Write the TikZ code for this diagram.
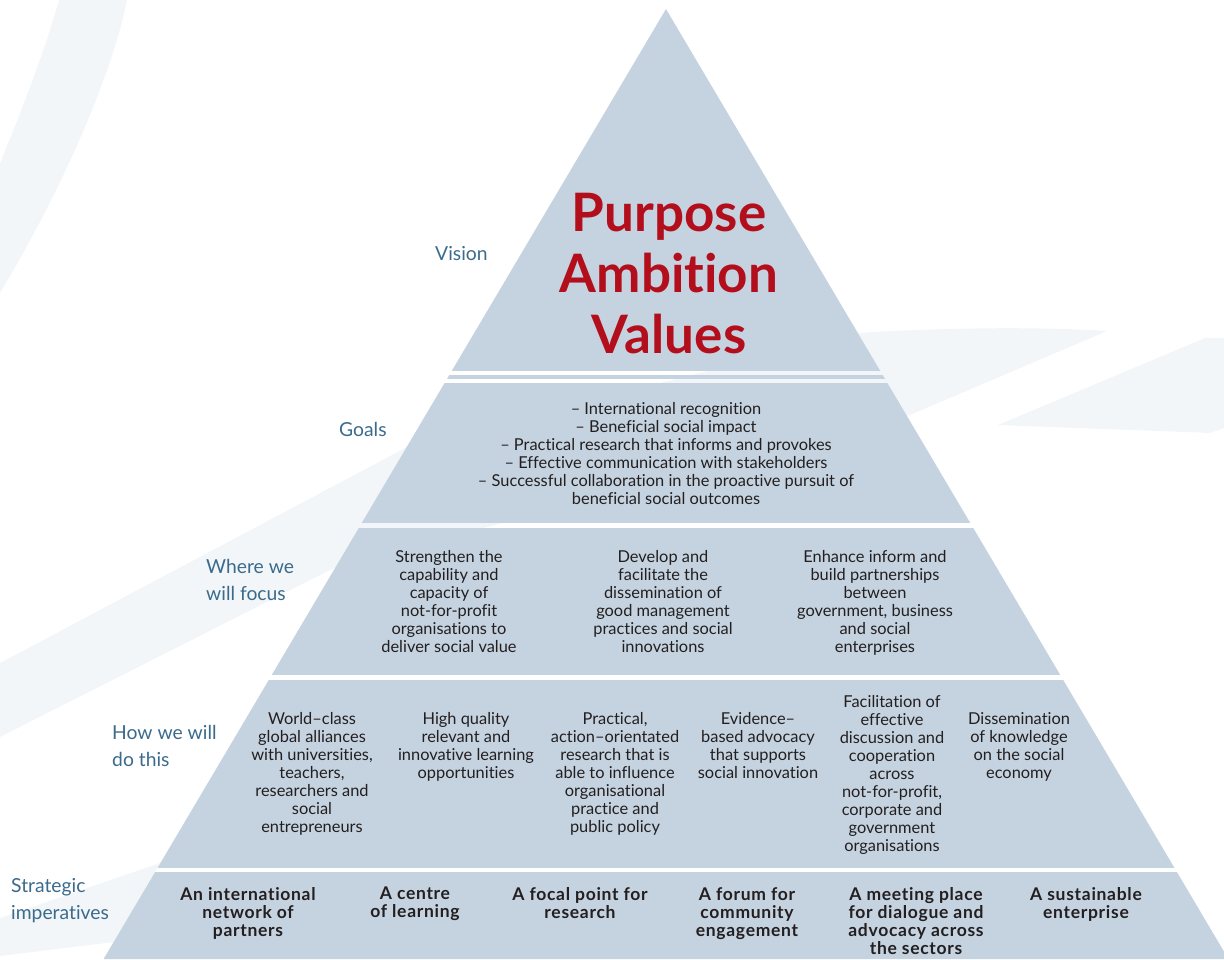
\documentclass[tikz,border=0pt]{standalone}
\usepackage{fontspec}
\setmainfont{Lato}[Ligatures={TeX,CommonOff}]
\definecolor{pyr}{RGB}{197,211,224}
\definecolor{swoosh}{RGB}{242,246,248}
\definecolor{lblblue}{RGB}{58,107,140}
\definecolor{ttlred}{RGB}{179,14,28}
\definecolor{bodyink}{RGB}{35,31,32}
\begin{document}
\begin{tikzpicture}[x=1pt,y=-1pt,
  bodytext/.style={font=\fontsize{16.4}{18}\selectfont, text=bodyink, align=center, inner sep=0pt, anchor=north},
  strattext/.style={bodytext, font=\fontsize{17.5}{18}\selectfont\bfseries\addfontfeature{LetterSpace=4}},
  sidelabel/.style={font=\fontsize{19.3}{27}\selectfont, text=lblblue, align=left, inner sep=0pt, anchor=north west},
  band/.style={fill=pyr},
  ]
\useasboundingbox (0,0) rectangle (1224,959);

% faint background swooshes
\fill[swoosh] (59,0) -- (127,0) .. controls (112,75) and (62,190) .. (0,293)
  -- (0,163) .. controls (22,110) and (45,50) .. (59,0) -- cycle;
\fill[swoosh] (0,663) -- (407,447) -- (858,333) .. controls (950,327) and (1050,327) .. (1107,331)
  -- (910,415) -- (336,567) -- (0,737) -- cycle;
\fill[swoosh] (998,425) -- (1205,338) -- (1224,338) -- (1224,428) -- (1210,433) -- cycle;
\fill[swoosh] (0,918) -- (160,863) -- (114,942) -- (0,956) -- cycle;

% pyramid bands
\coordinate (apex) at (666,9);
\begin{scope}
  \clip (apex) -- (103.6,959) -- (1228.4,959) -- cycle;
  \fill[band] (0,0)   rectangle (1240,371);
  \fill[band] (0,375) rectangle (1240,379);
  \fill[band] (0,383) rectangle (1240,523);
  \fill[band] (0,528) rectangle (1240,675);
  \fill[band] (0,680) rectangle (1240,868);
  \fill[band] (0,872) rectangle (1240,960);
\end{scope}

% vision
\node[font=\fontsize{53}{61}\selectfont\bfseries, text=ttlred, align=center, inner sep=0pt]
  (vision) at (669,274) {Purpose\\Ambition\\Values};

% goals
\node[bodytext] (goals) at (666,402) {– International recognition\\– Beneficial social impact\\– Practical research that informs and provokes\\– Effective communication with stakeholders\\– Successful collaboration in the proactive pursuit of\\beneficial social outcomes};

% where we will focus
\node[bodytext] (focusA) at (449,550) {Strengthen the\\capability and\\capacity of\\not-for-profit\\organisations to\\deliver social value};
\node[bodytext] (focusB) at (663,550) {Develop and\\facilitate the\\dissemination of\\good management\\practices and social\\innovations};
\node[bodytext] (focusC) at (875,550) {Enhance inform and\\build partnerships\\between\\government, business\\and social\\enterprises};

% how we will do this
\node[bodytext] (howA) at (312,712) {World–class\\global alliances\\with universities,\\teachers,\\researchers and\\social\\entrepreneurs};
\node[bodytext] (howB) at (466,712) {High quality\\relevant and\\innovative learning\\opportunities};
\node[bodytext] (howC) at (615,712) {Practical,\\action–orientated\\research that is\\able to influence\\organisational\\practice and\\public policy};
\node[bodytext] (howD) at (758,712) {Evidence–\\based advocacy\\that supports\\social innovation};
\node[bodytext] (howE) at (892,695) {Facilitation of\\effective\\discussion and\\cooperation\\across\\not-for-profit,\\corporate and\\government\\organisations};
\node[bodytext] (howF) at (1019,712) {Dissemination\\of knowledge\\on the social\\economy};

% strategic imperatives
\node[strattext] (impA) at (248,887) {An international\\network of\\partners};
\node[strattext] (impB) at (415,887) {A centre\\of learning};
\node[strattext] (impC) at (580,887) {A focal point for\\research};
\node[strattext] (impD) at (747,887) {A forum for\\community\\engagement};
\node[strattext] (impE) at (916,887) {A meeting place\\for dialogue and\\advocacy across\\the sectors};
\node[strattext] (impF) at (1086,887) {A sustainable\\enterprise};

% side labels
\node[sidelabel] (lvision) at (435,246) {Vision};
\node[sidelabel] (lgoals) at (339,422) {Goals};
\node[sidelabel] (lfocus) at (206,559) {Where we\\will focus};
\node[sidelabel] (lhow) at (112,725) {How we will\\do this};
\node[sidelabel] (lstrat) at (11,878) {Strategic\\imperatives};
\end{tikzpicture}
\end{document}
